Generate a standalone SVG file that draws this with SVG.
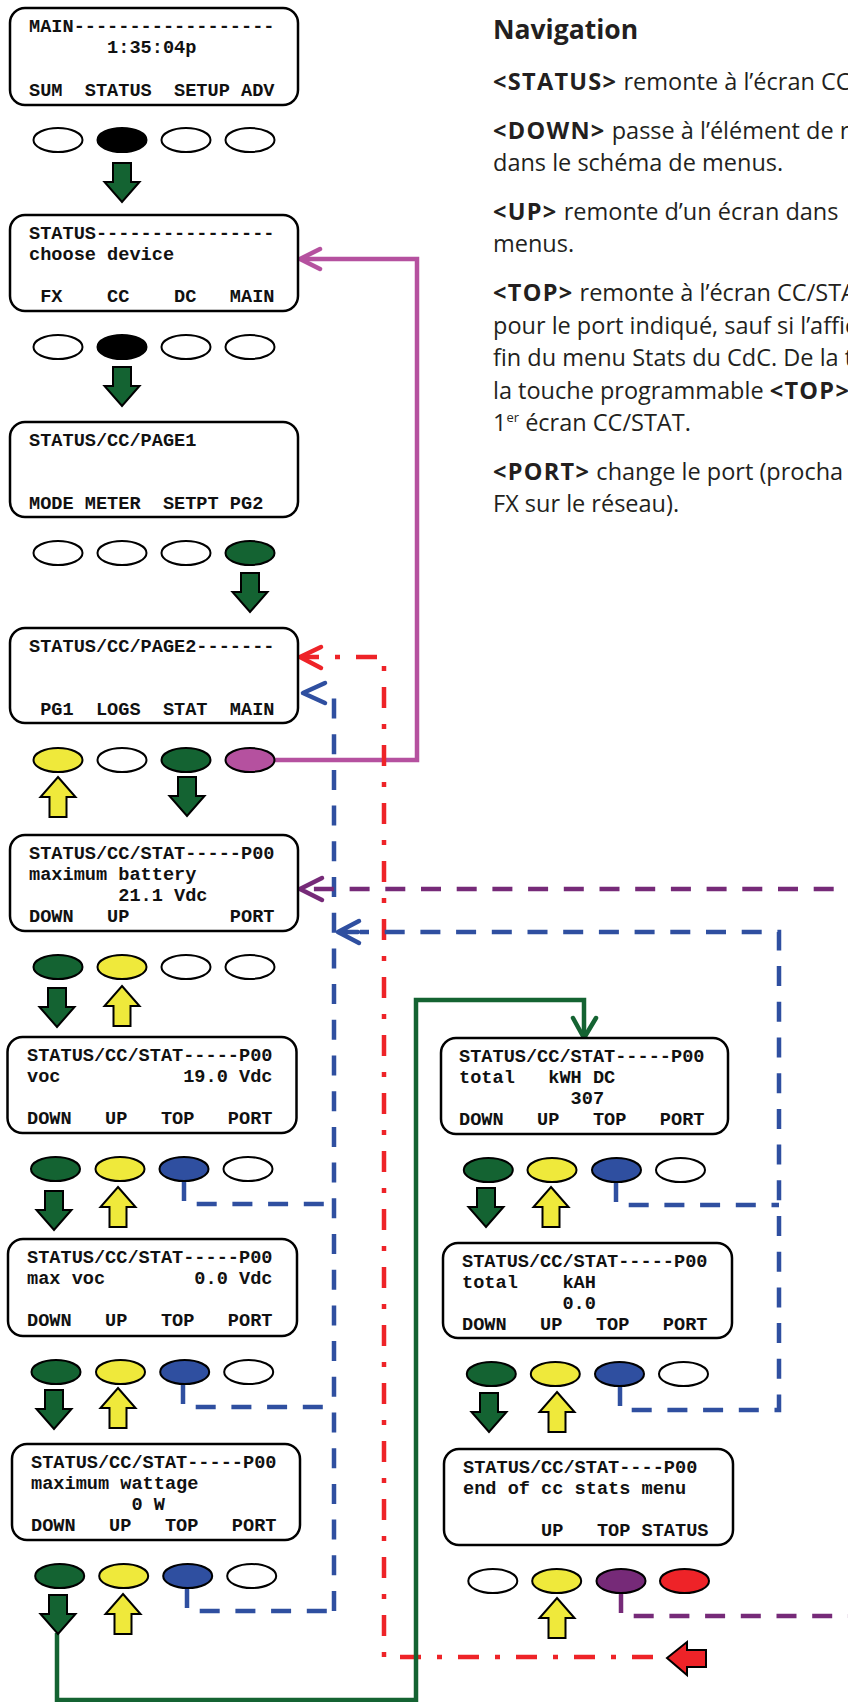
<svg xmlns="http://www.w3.org/2000/svg" width="848" height="1702" viewBox="0 0 848 1702">
<style>
.scr{fill:#fff;stroke:#000;stroke-width:2.5}
.lcd{font-family:"Liberation Mono","DejaVu Sans Mono",monospace;font-size:18.6px;font-weight:bold;fill:#111;white-space:pre}
.k{stroke:#000;stroke-width:2}
.w{fill:#fff}.b{fill:#000}.g{fill:#146332}.y{fill:#efe93b}.bl{fill:#2f4fa0}.m{fill:#b5519f}.p{fill:#762a78}.r{fill:#ee2328}
.dn{fill:#146332;stroke:#000;stroke-width:2}
.up{fill:#efe93b;stroke:#000;stroke-width:2}
.ln{fill:none;stroke-width:4.5;stroke-linejoin:miter}
.hd{fill:none;stroke-width:4.5;stroke-linecap:round;stroke-linejoin:round}
.cm{stroke:#b5519f}.cr{stroke:#ee2328}.cb{stroke:#2f4fa0}.cp{stroke:#762a78}.cg{stroke:#146332}
.dr{stroke-dasharray:21 16 5 16}.db{stroke-dasharray:20 15.7}
.nav{font-family:"Open Sans","Noto Sans",sans-serif;font-weight:bold;font-size:26.5px;fill:#231f20}
.body{font-family:"Open Sans","Noto Sans",sans-serif;font-size:23.5px;fill:#231f20}
.bd{font-weight:bold;letter-spacing:1.3px}
</style>
<defs>
<path id="dnA" class="dn" d="M-9,0 H9 V19 H17.5 L0,39 L-17.5,19 H-9 Z"/>
<path id="upA" class="up" d="M0,0 L17.5,20 H8.5 V40 H-8.5 V20 H-17.5 Z"/>
</defs>

<g id="navigation-text">
<text class="nav" x="493" y="39">Navigation</text>
<text class="body" x="493" y="90"><tspan class="bd">&lt;STATUS&gt;</tspan> remonte à l’écran CC</text>
<text class="body" x="493" y="139"><tspan class="bd">&lt;DOWN&gt;</tspan> passe à l’élément de r</text>
<text class="body" x="493" y="171">dans le schéma de menus.</text>
<text class="body" x="493" y="220"><tspan class="bd">&lt;UP&gt;</tspan> remonte d’un écran dans</text>
<text class="body" x="493" y="252">menus.</text>
<text class="body" x="493" y="301"><tspan class="bd">&lt;TOP&gt;</tspan> remonte à l’écran CC/STA</text>
<text class="body" x="493" y="334">pour le port indiqué, sauf si l’affic</text>
<text class="body" x="493" y="366">fin du menu Stats du CdC. De la t</text>
<text class="body" x="493" y="399">la touche programmable <tspan class="bd">&lt;TOP&gt;</tspan></text>
<text class="body" x="493" y="431">1<tspan font-size="13" dy="-9">er</tspan><tspan dy="9"> écran CC/STAT.</tspan></text>
<text class="body" x="493" y="480"><tspan class="bd">&lt;PORT&gt;</tspan> change le port (procha</text>
<text class="body" x="493" y="512">FX sur le réseau).</text>
</g>

<g id="connectors">
<path class="ln cm" d="M275,760 H417 V259 H301"/>
<path class="hd cm" d="M320,249 L300,259 L320,269"/>
<path class="ln cr dr" d="M653,1657 H384 V657 H303"/>
<path class="hd cr" d="M321,647 L300,657 L321,668"/>
<path class="ln cb db" d="M334,1611 V697"/>
<path class="ln cb db" d="M184,1181 V1204 H334"/>
<path class="ln cb db" d="M183,1384 V1407 H334"/>
<path class="ln cb db" d="M187,1588 V1611 H334"/>
<path class="hd cb" d="M325,683 L303,693 L325,703"/>
<path class="ln cb db" d="M616,1182 V1205 H779"/>
<path class="ln cb db" d="M620,1386 V1410 H779 V932 H360"/>
<path class="hd cb" d="M359,921 L338,932 L359,943 M338,932 H358"/>
<path class="ln cp db" d="M621,1593 V1616 H870 V889 H304"/>
<path class="hd cp" d="M322,878 L300,889 L322,900"/>
<path class="ln cg" d="M57,1633 V1700 H416 V1000 H584 V1034"/>
<path class="hd cg" d="M573,1018 L584,1038 L596,1018"/>
<path d="M667,1658 L687,1642 V1650 H706 V1667 H687 V1675 Z" fill="#ee2328" stroke="#000" stroke-width="2"/>
<g id="flow-arrows">
<use href="#dnA" x="122" y="163"/>
<use href="#dnA" x="122" y="367"/>
<use href="#dnA" x="250" y="573"/>
<use href="#dnA" x="187" y="777"/>
<use href="#dnA" x="57" y="988"/>
<use href="#dnA" x="54" y="1191"/>
<use href="#dnA" x="54" y="1390"/>
<use href="#dnA" x="58" y="1595"/>
<use href="#dnA" x="486" y="1188"/>
<use href="#dnA" x="489" y="1393"/>
<use href="#upA" x="58" y="777"/>
<use href="#upA" x="122" y="986"/>
<use href="#upA" x="118" y="1187"/>
<use href="#upA" x="118" y="1388"/>
<use href="#upA" x="123" y="1594"/>
<use href="#upA" x="551" y="1187"/>
<use href="#upA" x="557" y="1392"/>
<use href="#upA" x="557" y="1598"/>
</g>
</g>

<g id="scr-main">
<rect class="scr" x="10" y="8" width="288" height="97" rx="15"/>
<text class="lcd" xml:space="preserve" x="29" y="32">MAIN------------------</text>
<text class="lcd" xml:space="preserve" x="29" y="53">       1:35:04p</text>
<text class="lcd" xml:space="preserve" x="29" y="96">SUM  STATUS  SETUP ADV</text>
</g>
<g id="keys-main">
<ellipse class="k w" cx="58" cy="140" rx="24.5" ry="12"/>
<ellipse class="k b" cx="122" cy="140" rx="24.5" ry="12"/>
<ellipse class="k w" cx="186" cy="140" rx="24.5" ry="12"/>
<ellipse class="k w" cx="250" cy="140" rx="24.5" ry="12"/>
</g>

<g id="scr-status">
<rect class="scr" x="10" y="215" width="288" height="96" rx="15"/>
<text class="lcd" xml:space="preserve" x="29" y="239">STATUS----------------</text>
<text class="lcd" xml:space="preserve" x="29" y="260">choose device</text>
<text class="lcd" xml:space="preserve" x="29" y="302"> FX    CC    DC   MAIN</text>
</g>
<g id="keys-status">
<ellipse class="k w" cx="58" cy="347" rx="24.5" ry="12"/>
<ellipse class="k b" cx="122" cy="347" rx="24.5" ry="12"/>
<ellipse class="k w" cx="186" cy="347" rx="24.5" ry="12"/>
<ellipse class="k w" cx="250" cy="347" rx="24.5" ry="12"/>
</g>

<g id="scr-page1">
<rect class="scr" x="10" y="422" width="288" height="95" rx="15"/>
<text class="lcd" xml:space="preserve" x="29" y="446">STATUS/CC/PAGE1</text>
<text class="lcd" xml:space="preserve" x="29" y="509">MODE METER  SETPT PG2</text>
</g>
<g id="keys-page1">
<ellipse class="k w" cx="58" cy="553" rx="24.5" ry="12"/>
<ellipse class="k w" cx="122" cy="553" rx="24.5" ry="12"/>
<ellipse class="k w" cx="186" cy="553" rx="24.5" ry="12"/>
<ellipse class="k g" cx="250" cy="553" rx="24.5" ry="12"/>
</g>

<g id="scr-page2">
<rect class="scr" x="10" y="628" width="288" height="95" rx="15"/>
<text class="lcd" xml:space="preserve" x="29" y="652">STATUS/CC/PAGE2-------</text>
<text class="lcd" xml:space="preserve" x="29" y="715"> PG1  LOGS  STAT  MAIN</text>
</g>
<g id="keys-page2">
<ellipse class="k y" cx="58" cy="760" rx="24.5" ry="12"/>
<ellipse class="k w" cx="122" cy="760" rx="24.5" ry="12"/>
<ellipse class="k g" cx="186" cy="760" rx="24.5" ry="12"/>
<ellipse class="k m" cx="250" cy="760" rx="24.5" ry="12"/>
</g>

<g id="scr-max-battery">
<rect class="scr" x="10" y="835" width="288" height="96" rx="15"/>
<text class="lcd" xml:space="preserve" x="29" y="859">STATUS/CC/STAT-----P00</text>
<text class="lcd" xml:space="preserve" x="29" y="880">maximum battery</text>
<text class="lcd" xml:space="preserve" x="29" y="901">        21.1 Vdc</text>
<text class="lcd" xml:space="preserve" x="29" y="922">DOWN   UP         PORT</text>
</g>
<g id="keys-max-battery">
<ellipse class="k g" cx="58" cy="967" rx="24.5" ry="12"/>
<ellipse class="k y" cx="122" cy="967" rx="24.5" ry="12"/>
<ellipse class="k w" cx="186" cy="967" rx="24.5" ry="12"/>
<ellipse class="k w" cx="250" cy="967" rx="24.5" ry="12"/>
</g>

<g id="scr-voc">
<rect class="scr" x="7.5" y="1037" width="289" height="96" rx="15"/>
<text class="lcd" xml:space="preserve" x="27" y="1061">STATUS/CC/STAT-----P00</text>
<text class="lcd" xml:space="preserve" x="27" y="1082">voc           19.0 Vdc</text>
<text class="lcd" xml:space="preserve" x="27" y="1124">DOWN   UP   TOP   PORT</text>
</g>
<g id="keys-voc">
<ellipse class="k g" cx="55.5" cy="1169" rx="24.5" ry="12"/>
<ellipse class="k y" cx="120" cy="1169" rx="24.5" ry="12"/>
<ellipse class="k bl" cx="184" cy="1169" rx="24.5" ry="12"/>
<ellipse class="k w" cx="248" cy="1169" rx="24.5" ry="12"/>
</g>

<g id="scr-max-voc">
<rect class="scr" x="8" y="1239" width="289" height="97" rx="15"/>
<text class="lcd" xml:space="preserve" x="27" y="1263">STATUS/CC/STAT-----P00</text>
<text class="lcd" xml:space="preserve" x="27" y="1284">max voc        0.0 Vdc</text>
<text class="lcd" xml:space="preserve" x="27" y="1326">DOWN   UP   TOP   PORT</text>
</g>
<g id="keys-max-voc">
<ellipse class="k g" cx="56" cy="1372" rx="24.5" ry="12"/>
<ellipse class="k y" cx="120.5" cy="1372" rx="24.5" ry="12"/>
<ellipse class="k bl" cx="184.7" cy="1372" rx="24.5" ry="12"/>
<ellipse class="k w" cx="248.7" cy="1372" rx="24.5" ry="12"/>
</g>

<g id="scr-max-wattage">
<rect class="scr" x="12" y="1444" width="288" height="96" rx="15"/>
<text class="lcd" xml:space="preserve" x="31" y="1468">STATUS/CC/STAT-----P00</text>
<text class="lcd" xml:space="preserve" x="31" y="1489">maximum wattage</text>
<text class="lcd" xml:space="preserve" x="31" y="1510">         0 W</text>
<text class="lcd" xml:space="preserve" x="31" y="1531">DOWN   UP   TOP   PORT</text>
</g>
<g id="keys-max-wattage">
<ellipse class="k g" cx="59.7" cy="1576" rx="24.5" ry="12"/>
<ellipse class="k y" cx="123.7" cy="1576" rx="24.5" ry="12"/>
<ellipse class="k bl" cx="187.7" cy="1576" rx="24.5" ry="12"/>
<ellipse class="k w" cx="251.7" cy="1576" rx="24.5" ry="12"/>
</g>

<g id="scr-kwh">
<rect class="scr" x="441" y="1038" width="287" height="96" rx="15"/>
<text class="lcd" xml:space="preserve" x="459" y="1062">STATUS/CC/STAT-----P00</text>
<text class="lcd" xml:space="preserve" x="459" y="1083">total   kWH DC</text>
<text class="lcd" xml:space="preserve" x="459" y="1104">          307</text>
<text class="lcd" xml:space="preserve" x="459" y="1125">DOWN   UP   TOP   PORT</text>
</g>
<g id="keys-kwh">
<ellipse class="k g" cx="488.3" cy="1170" rx="24.5" ry="12"/>
<ellipse class="k y" cx="552" cy="1170" rx="24.5" ry="12"/>
<ellipse class="k bl" cx="616.5" cy="1170" rx="24.5" ry="12"/>
<ellipse class="k w" cx="680.5" cy="1170" rx="24.5" ry="12"/>
</g>

<g id="scr-kah">
<rect class="scr" x="443" y="1243" width="289" height="95" rx="15"/>
<text class="lcd" xml:space="preserve" x="462" y="1267">STATUS/CC/STAT-----P00</text>
<text class="lcd" xml:space="preserve" x="462" y="1288">total    kAH</text>
<text class="lcd" xml:space="preserve" x="462" y="1309">         0.0</text>
<text class="lcd" xml:space="preserve" x="462" y="1330">DOWN   UP   TOP   PORT</text>
</g>
<g id="keys-kah">
<ellipse class="k g" cx="491.3" cy="1374" rx="24.5" ry="12"/>
<ellipse class="k y" cx="555.3" cy="1374" rx="24.5" ry="12"/>
<ellipse class="k bl" cx="619.5" cy="1374" rx="24.5" ry="12"/>
<ellipse class="k w" cx="683.5" cy="1374" rx="24.5" ry="12"/>
</g>

<g id="scr-end">
<rect class="scr" x="444" y="1449" width="289" height="96" rx="15"/>
<text class="lcd" xml:space="preserve" x="463" y="1473">STATUS/CC/STAT----P00</text>
<text class="lcd" xml:space="preserve" x="463" y="1494">end of cc stats menu</text>
<text class="lcd" xml:space="preserve" x="463" y="1536">       UP   TOP STATUS</text>
</g>
<g id="keys-end">
<ellipse class="k w" cx="492.8" cy="1581" rx="24.5" ry="12"/>
<ellipse class="k y" cx="556.7" cy="1581" rx="24.5" ry="12"/>
<ellipse class="k p" cx="621" cy="1581" rx="24.5" ry="12"/>
<ellipse class="k r" cx="684.5" cy="1581" rx="24.5" ry="12"/>
</g>
</svg>
